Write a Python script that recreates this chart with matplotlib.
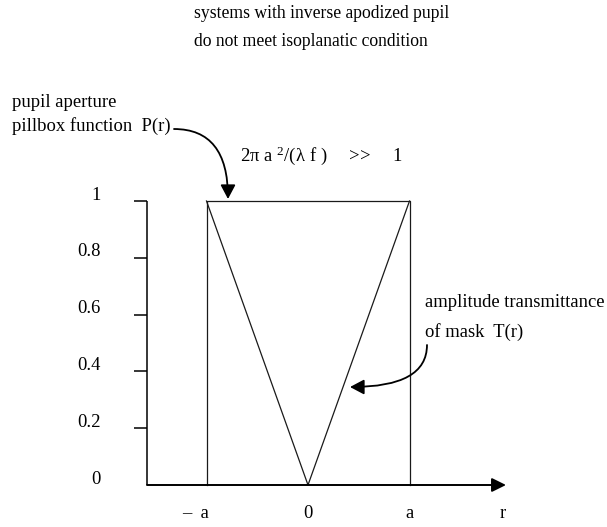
import matplotlib
matplotlib.use("Agg")
import matplotlib.pyplot as plt

# ---- data ----
pupil_r = [-1, -1, 1, 1]          # pillbox P(r)
pupil_P = [0, 1, 1, 0]
mask_r = [-1, 0, 1]               # inverse apodized mask T(r) = |r|/a
mask_T = [1, 0, 1]
y_ticks = [0.2, 0.4, 0.6, 0.8, 1.0]
y_labels = ["0", "0.2", "0.4", "0.6", "0.8", "1"]
y_label_vals = [0, 0.2, 0.4, 0.6, 0.8, 1.0]
x_labels = ["\u2013 a", "0", "a", "r"]
x_label_vals = [-1, 0, 1, 1.92]

plt.rcParams['font.family'] = ['Liberation Serif', 'DejaVu Serif']
plt.rcParams['mathtext.fontset'] = 'custom'
plt.rcParams['mathtext.rm'] = 'Liberation Serif'
plt.rcParams['mathtext.it'] = 'Liberation Serif'
plt.rcParams['mathtext.bf'] = 'Liberation Serif'

W, H = 607, 527
fig = plt.figure(figsize=(W / 100, H / 100), dpi=100)
ax = fig.add_axes([0, 0, 1, 1])

# pixel -> data helpers (layout only)
X0, SX = 308.0, 101.5
Y0, SY = 485.0, 284.0
def dx(px):
    return (px - X0) / SX
def dy(py):
    return (Y0 - py) / SY

ax.set_xlim(dx(0), dx(W))
ax.set_ylim(dy(H), dy(0))
ax.axis('off')

FS = 13.4
lc = '#1a1a1a'

# axes
xa = dx(147)
ax.plot([xa, xa], [0, 1], color='black', lw=1.1, solid_capstyle='butt')
for t in y_ticks:
    ax.plot([xa - 13 / SX, xa], [t, t], color='black', lw=1.1, solid_capstyle='butt')
ax.annotate("", xy=(dx(506), 0), xytext=(xa, 0),
            arrowprops=dict(arrowstyle='-|>,head_length=0.85,head_width=0.42',
                            mutation_scale=10, color='black', lw=1.4,
                            shrinkA=0, shrinkB=0))

# pillbox and mask
ax.plot(pupil_r, pupil_P, color=lc, lw=0.9)
ax.plot(mask_r, mask_T, color=lc, lw=0.9)

# tick labels
for v, s in zip(y_label_vals, y_labels):
    ax.text(dx(101), v + 6 / SY, s, ha='right', va='center', fontsize=FS)
for v, s in zip(x_label_vals, x_labels):
    if s.startswith("\u2013"):
        ax.text(dx(209), dy(518), s.replace(" ", "  "), ha='right', va='baseline', fontsize=FS)
    else:
        ax.text(v, dy(518), s, ha='center', va='baseline', fontsize=FS)

# titles / annotations
ax.text(dx(194), dy(18), "systems with inverse apodized pupil", ha='left', va='baseline', fontsize=12.7)
ax.text(dx(194), dy(46), "do not meet isoplanatic condition", ha='left', va='baseline', fontsize=12.7)

ax.text(dx(12), dy(107), "pupil aperture", ha='left', va='baseline', fontsize=FS)
ax.text(dx(12), dy(131), "pillbox function  P(r)", ha='left', va='baseline', fontsize=FS)

ax.text(dx(240), dy(161), r"$\mathrm{2\pi\ a\ ^{2}/(\lambda\ f\ )\ \ \ \ >\!\!>\ \ \ \ 1}$",
        ha='left', va='baseline', fontsize=FS)

ax.text(dx(425), dy(307), "amplitude transmittance", ha='left', va='baseline', fontsize=FS)
ax.text(dx(425), dy(337), "of mask  T(r)", ha='left', va='baseline', fontsize=FS)

ax.annotate("", xy=(dx(228), dy(199)), xytext=(dx(174), dy(129)),
            arrowprops=dict(arrowstyle='-|>,head_length=0.85,head_width=0.45',
                            mutation_scale=10, color='black', lw=1.3,
                            shrinkA=0, shrinkB=0,
                            connectionstyle='angle3,angleA=0,angleB=90'))
ax.annotate("", xy=(dx(350), dy(387)), xytext=(dx(427), dy(345)),
            arrowprops=dict(arrowstyle='-|>,head_length=0.85,head_width=0.45',
                            mutation_scale=10, color='black', lw=1.3,
                            shrinkA=0, shrinkB=0,
                            connectionstyle='angle3,angleA=90,angleB=0'))

fig.savefig("out.png", dpi=100)
